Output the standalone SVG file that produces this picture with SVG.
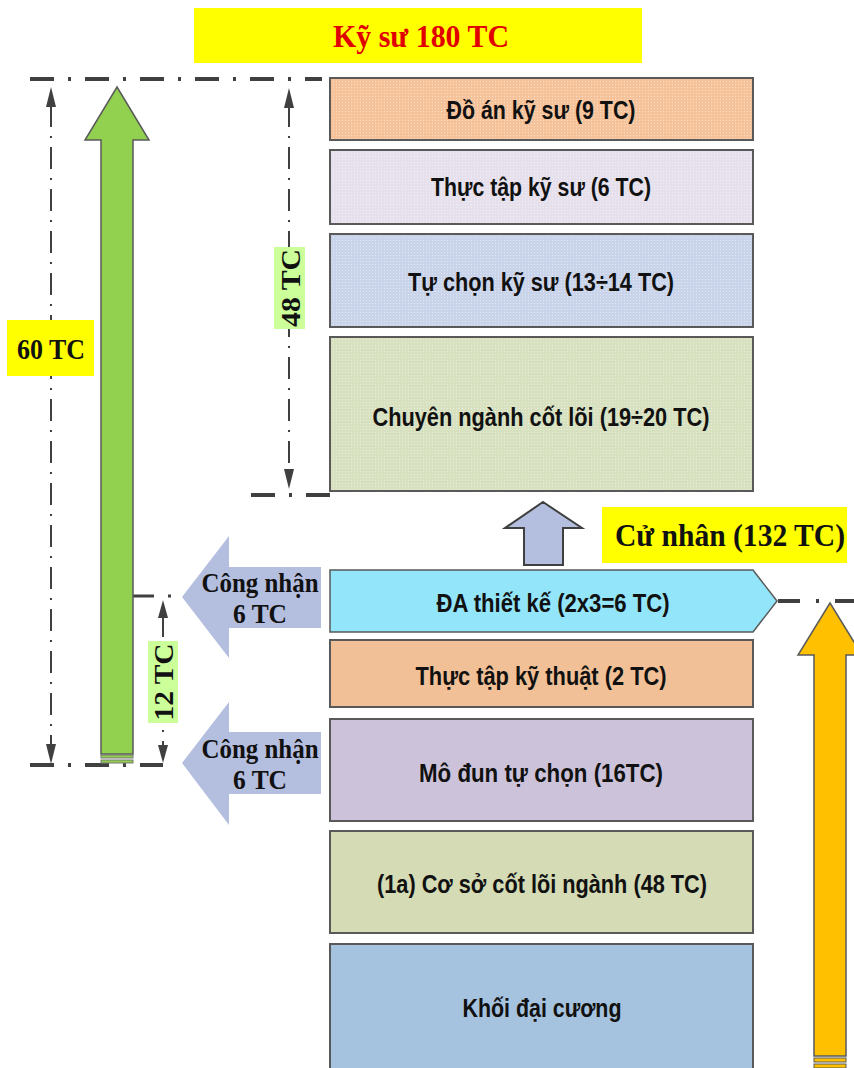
<svg xmlns="http://www.w3.org/2000/svg" width="854" height="1068" viewBox="0 0 854 1068">
<defs>
<style>
.box{stroke:#595959;stroke-width:2}
.bt{font-family:"Liberation Sans Narrow","Liberation Sans",sans-serif;font-weight:bold;font-size:25px;fill:#111;text-anchor:middle}
.st{font-family:"Liberation Serif",serif;font-weight:bold;fill:#111;text-anchor:middle}
.hd{stroke:#404040;stroke-width:4;fill:none;stroke-dasharray:24 14 3 14}
.vd{stroke:#404040;stroke-width:2;fill:none;stroke-dasharray:22 9 2 9}
.ah{fill:#404040}
.cn{fill:#B4BEDF}
</style>
<pattern id="dots" width="3" height="3" patternUnits="userSpaceOnUse">
<rect x="0" y="0" width="1" height="1" fill="#ffffff" fill-opacity="0.45"/>
</pattern>
</defs>
<rect width="854" height="1068" fill="#ffffff"/>

<g id="title">
<rect x="194" y="8" width="448" height="55" fill="#FFFF00"/>
<text class="st" x="421" y="47" font-size="31" style="fill:#E00000" textLength="176" lengthAdjust="spacingAndGlyphs">Kỹ sư 180 TC</text>
</g>

<g id="connectors">
<line class="hd" x1="30" y1="79" x2="322" y2="79"/>
<line class="hd" x1="251" y1="495" x2="330" y2="495"/>
<line class="hd" x1="130" y1="596" x2="182" y2="596" style="stroke-width:3"/>
<line class="hd" x1="30" y1="765" x2="163" y2="765"/>
<line class="hd" x1="778" y1="601" x2="854" y2="601" style="stroke-dasharray:22 16 3 16"/>
<line class="vd" x1="51" y1="105" x2="51" y2="747"/>
<polygon class="ah" points="51,87 46,107 56,107"/>
<polygon class="ah" points="51,764 46,744 56,744"/>
<line class="vd" x1="289" y1="105" x2="289" y2="472"/>
<polygon class="ah" points="289,88 284,108 294,108"/>
<polygon class="ah" points="289,489 284,469 294,469"/>
<line class="vd" x1="163" y1="615" x2="163" y2="747"/>
<polygon class="ah" points="163,600 158,618 168,618"/>
<polygon class="ah" points="163,763 158,745 168,745"/>
</g>

<g id="green-arrow">
<polygon points="117,87 149,140 133,140 133,754 101,754 101,140 85,140" fill="#92D050" stroke="#5a5a5a" stroke-width="1.5"/>
<rect x="101" y="755" width="32" height="3" fill="#92D050" stroke="#777" stroke-width="1"/>
<rect x="101" y="760" width="32" height="3" fill="#92D050" stroke="#777" stroke-width="1"/>
</g>

<g id="label-60">
<rect x="7" y="320" width="87" height="56" fill="#FFFF00"/>
<text class="st" x="51" y="359" font-size="30" textLength="68" lengthAdjust="spacingAndGlyphs">60 TC</text>
</g>

<g id="label-48">
<rect x="274" y="247" width="31" height="82" fill="#CCFF99"/>
<text class="st" transform="translate(300,288) rotate(-90)" x="0" y="0" font-size="28" textLength="78" lengthAdjust="spacingAndGlyphs">48 TC</text>
</g>

<g id="label-12">
<rect x="148" y="641" width="30" height="82" fill="#CCFF99"/>
<text class="st" transform="translate(173,682) rotate(-90)" x="0" y="0" font-size="28" textLength="77" lengthAdjust="spacingAndGlyphs">12 TC</text>
</g>

<g id="node-do-an">
<rect class="box" x="330" y="78" width="423" height="62" fill="#F6C29A"/>
<rect x="331" y="79" width="421" height="60" fill="url(#dots)"/>
<text class="bt" x="541" y="119" textLength="189" lengthAdjust="spacingAndGlyphs">Đồ án kỹ sư (9 TC)</text>
</g>

<g id="node-thuc-tap-ky-su">
<rect class="box" x="330" y="150" width="423" height="74" fill="#E6E0EC"/>
<rect x="331" y="151" width="421" height="72" fill="url(#dots)"/>
<text class="bt" x="541" y="196" textLength="220" lengthAdjust="spacingAndGlyphs">Thực tập kỹ sư (6 TC)</text>
</g>

<g id="node-tu-chon-ky-su">
<rect class="box" x="330" y="234" width="423" height="93" fill="#C9D3EA"/>
<rect x="331" y="235" width="421" height="91" fill="url(#dots)"/>
<text class="bt" x="541" y="291" textLength="266" lengthAdjust="spacingAndGlyphs">Tự chọn kỹ sư (13÷14 TC)</text>
</g>

<g id="node-chuyen-nganh">
<rect class="box" x="330" y="337" width="423" height="154" fill="#D7E0BF"/>
<rect x="331" y="338" width="421" height="152" fill="url(#dots)"/>
<text class="bt" x="541" y="426" textLength="337" lengthAdjust="spacingAndGlyphs">Chuyên ngành cốt lõi (19÷20 TC)</text>
</g>

<g id="up-arrow">
<polygon points="543,502 582,528 563,528 563,565 524,565 524,528 505,528" fill="#B4BEDF" stroke="#404040" stroke-width="2"/>
</g>

<g id="label-cu-nhan">
<rect x="602" y="507" width="245" height="56" fill="#FFFF00"/>
<text class="st" x="730" y="546" font-size="31" textLength="230" lengthAdjust="spacingAndGlyphs">Cử nhân (132 TC)</text>
</g>

<g id="node-da-thiet-ke">
<polygon class="box" points="330,570 753,570 777,601 753,632 330,632" fill="#93E5F9" style="stroke-width:1.5"/>
<text class="bt" x="553" y="612" textLength="233" lengthAdjust="spacingAndGlyphs">ĐA thiết kế (2x3=6 TC)</text>
</g>

<g id="cong-nhan-1">
<polygon class="cn" points="182,597 229,536 229,567 321,567 321,628 229,628 229,658"/>
<text class="st" x="260" y="592" font-size="28" textLength="117" lengthAdjust="spacingAndGlyphs">Công nhận</text>
<text class="st" x="260" y="623" font-size="28" textLength="54" lengthAdjust="spacingAndGlyphs">6 TC</text>
</g>

<g id="cong-nhan-2">
<polygon class="cn" points="182,763 229,702 229,732 321,732 321,794 229,794 229,825"/>
<text class="st" x="260" y="758" font-size="28" textLength="117" lengthAdjust="spacingAndGlyphs">Công nhận</text>
<text class="st" x="260" y="789" font-size="28" textLength="54" lengthAdjust="spacingAndGlyphs">6 TC</text>
</g>

<g id="node-thuc-tap-ky-thuat">
<rect class="box" x="330" y="640" width="423" height="67" fill="#F1C096"/>
<text class="bt" x="541" y="685" textLength="251" lengthAdjust="spacingAndGlyphs">Thực tập kỹ thuật (2 TC)</text>
</g>

<g id="node-mo-dun">
<rect class="box" x="330" y="719" width="423" height="102" fill="#CCC3DA"/>
<text class="bt" x="541" y="782" textLength="244" lengthAdjust="spacingAndGlyphs">Mô đun tự chọn (16TC)</text>
</g>

<g id="node-co-so">
<rect class="box" x="330" y="831" width="423" height="102" fill="#D4DBB5"/>
<text class="bt" x="542" y="893" textLength="330" lengthAdjust="spacingAndGlyphs">(1a) Cơ sở cốt lõi ngành (48 TC)</text>
</g>

<g id="node-khoi-dai-cuong">
<rect class="box" x="330" y="944" width="423" height="130" fill="#A5C3DE"/>
<text class="bt" x="542" y="1017" textLength="159" lengthAdjust="spacingAndGlyphs">Khối đại cương</text>
</g>

<g id="orange-arrow">
<polygon points="830,603 862,655 846,655 846,1056 814,1056 814,655 798,655" fill="#FFC000" stroke="#5a5a5a" stroke-width="1.5"/>
<rect x="814" y="1058" width="32" height="4" fill="#FFC000" stroke="#5a5a5a" stroke-width="1"/>
<rect x="814" y="1064" width="32" height="4" fill="#FFC000" stroke="#5a5a5a" stroke-width="1"/>
</g>
</svg>
